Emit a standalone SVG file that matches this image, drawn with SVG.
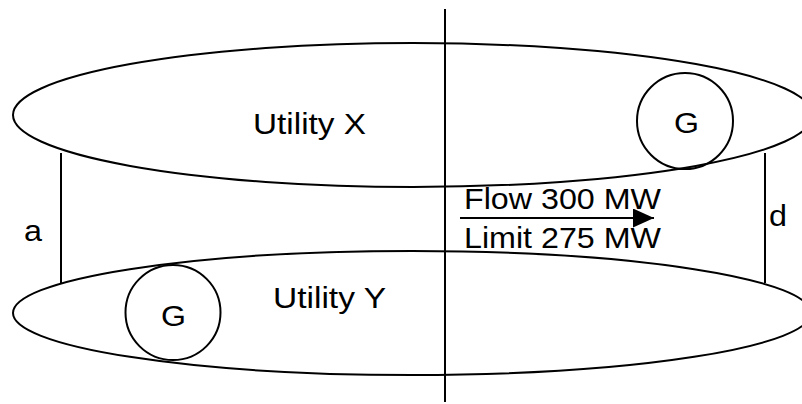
<svg xmlns="http://www.w3.org/2000/svg" width="802" height="404" viewBox="0 0 802 404">
  <style>
    .shape { fill: none; stroke: #000; stroke-width: 2; }
    .wire { stroke: #000; stroke-width: 2; fill: none; }
    .lbl { font-family: "Liberation Sans", Arial, sans-serif; font-size: 29px; fill: #000; }
  </style>
  <defs>
    <marker id="arrow" viewBox="0 0 21 19" refX="21" refY="9.5" markerWidth="21" markerHeight="19" markerUnits="userSpaceOnUse" orient="auto">
      <path d="M0,0 L21,9.5 L0,19 Z" fill="#000"/>
    </marker>
  </defs>
  <rect width="802" height="404" fill="#fff"/>

  <!-- utility areas -->
  <g id="utility-x">
    <ellipse class="shape" cx="413" cy="115" rx="400" ry="72"/>
    <text class="lbl" x="253" y="134" textLength="113" lengthAdjust="spacingAndGlyphs">Utility X</text>
  </g>
  <g id="utility-y">
    <ellipse class="shape" cx="412" cy="313" rx="399" ry="62"/>
    <text class="lbl" x="273" y="308" textLength="113" lengthAdjust="spacingAndGlyphs">Utility Y</text>
  </g>

  <!-- generators -->
  <g id="gen-x">
    <circle class="shape" cx="685" cy="121" r="48"/>
    <text class="lbl" x="674" y="133" textLength="25" lengthAdjust="spacingAndGlyphs">G</text>
  </g>
  <g id="gen-y">
    <circle class="shape" cx="173" cy="312.5" r="47.5"/>
    <text class="lbl" x="161" y="326" textLength="25" lengthAdjust="spacingAndGlyphs">G</text>
  </g>

  <!-- tie labels -->
  <g id="tie-a">
    <text class="lbl" x="24" y="241" textLength="18" lengthAdjust="spacingAndGlyphs">a</text>
  </g>
  <g id="tie-d">
    <text class="lbl" x="769" y="226" textLength="18" lengthAdjust="spacingAndGlyphs">d</text>
  </g>
  <g id="flow-label">
    <text class="lbl" x="464" y="209" textLength="197" lengthAdjust="spacingAndGlyphs">Flow 300 MW</text>
    <text class="lbl" x="464" y="248" textLength="197" lengthAdjust="spacingAndGlyphs">Limit 275 MW</text>
  </g>

  <!-- connectors -->
  <g id="connectors">
    <line class="wire" x1="445" y1="9" x2="445" y2="402"/>
    <line class="wire" x1="61" y1="153" x2="61" y2="283"/>
    <line class="wire" x1="765" y1="153" x2="765" y2="283"/>
    <line class="wire" x1="460" y1="218" x2="654" y2="218" marker-end="url(#arrow)"/>
  </g>
</svg>
